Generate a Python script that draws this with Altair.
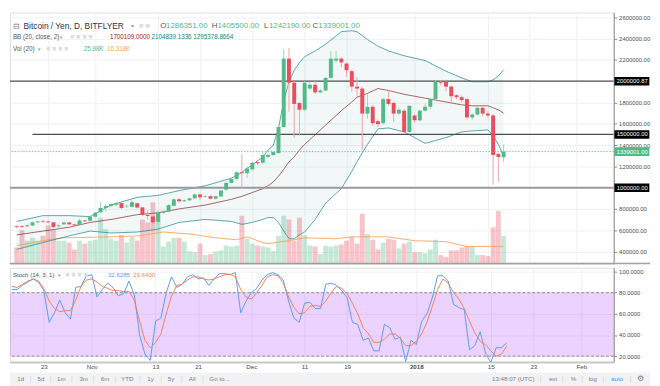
import json
import altair as alt
import pandas as pd

# ---------------- data ----------------
FIRST_DAY = "2017-10-17"

opens = [638000, 640000, 638000, 645000, 675000, 685000, 683000, 675000, 638000, 656000,
         674000, 656000, 650000, 692000, 690000, 728000, 770000, 810000, 828000, 840000,
         855000, 825000, 820000, 855000, 815000, 745000, 730000, 680000, 765000, 775000,
         830000, 891000, 873000, 882000, 900000, 937000, 915000, 920000, 897000, 918000,
         982000, 1045000, 1081000, 1145000, 1136000, 1172000, 1240000, 1235000, 1290000, 1307000,
         1325000, 1570000, 2212000, 1986000, 1796000, 1732000, 1931000, 1967000, 1895000, 1913000,
         2031000, 2193000, 2212000, 2166000, 2094000, 1949000, 1931000, 1696000, 1760000, 1624000,
         1606000, 1832000, 1796000, 1696000, 1723000, 1524000, 1678000, 1633000, 1723000, 1760000,
         1832000, 1995000, 1995000, 1949000, 1868000, 1850000, 1832000, 1660000, 1687000, 1750000,
         1696000, 1678000, 1316000, 1286351]
highs = [648000, 650000, 655000, 682000, 690000, 700000, 690000, 680000, 655000, 680000,
         680000, 662000, 710000, 700000, 735000, 772000, 865000, 850000, 855000, 865000,
         862000, 845000, 885000, 860000, 820000, 790000, 740000, 785000, 790000, 845000,
         900000, 905000, 890000, 908000, 945000, 945000, 930000, 930000, 925000, 980000,
         1055000, 1095000, 1155000, 1316000, 1200000, 1245000, 1250000, 1340000, 1320000, 1345000,
         1580000, 2302000, 2311000, 2000000, 1800000, 2000000, 1990000, 2000000, 1925000, 2040000,
         2284000, 2284000, 2230000, 2175000, 2110000, 2040000, 1945000, 1877000, 1775000, 1640000,
         1840000, 1922000, 1810000, 1750000, 1740000, 1775000, 1690000, 1735000, 1790000, 1845000,
         2005000, 2010000, 2005000, 1960000, 1880000, 1865000, 1845000, 1700000, 1765000, 1765000,
         1720000, 1690000, 1330000, 1405500]
lows = [625000, 620000, 632000, 640000, 668000, 670000, 665000, 620000, 625000, 650000,
        650000, 640000, 645000, 678000, 685000, 720000, 760000, 780000, 815000, 830000,
        800000, 810000, 815000, 805000, 735000, 700000, 655000, 670000, 755000, 770000,
        825000, 860000, 865000, 875000, 895000, 885000, 905000, 890000, 890000, 912000,
        975000, 1040000, 1075000, 990000, 1090000, 1160000, 1215000, 1220000, 1280000, 1300000,
        1320000, 1560000, 1714000, 1470000, 1488000, 1720000, 1920000, 1880000, 1885000, 1905000,
        2025000, 2170000, 2130000, 2040000, 1900000, 1859000, 1353000, 1650000, 1580000, 1570000,
        1595000, 1770000, 1620000, 1680000, 1510000, 1515000, 1610000, 1620000, 1715000, 1740000,
        1820000, 1960000, 1904000, 1805000, 1830000, 1800000, 1640000, 1640000, 1680000, 1670000,
        1660000, 1027000, 1054000, 1242190]
closes = [630000, 633000, 647000, 675000, 683000, 680000, 675000, 630000, 647000, 674000,
          656000, 647000, 692000, 684000, 728000, 765000, 810000, 828000, 846000, 855000,
          810000, 830000, 864000, 815000, 745000, 735000, 675000, 765000, 775000, 837000,
          891000, 873000, 882000, 900000, 937000, 910000, 920000, 897000, 920000, 973000,
          1045000, 1081000, 1145000, 1136000, 1181000, 1235000, 1230000, 1307000, 1307000, 1335000,
          1570000, 2212000, 1986000, 1787000, 1732000, 1986000, 1967000, 1895000, 1913000, 2031000,
          2212000, 2212000, 2176000, 2103000, 1949000, 1931000, 1696000, 1760000, 1606000, 1597000,
          1832000, 1787000, 1696000, 1732000, 1524000, 1769000, 1633000, 1723000, 1760000, 1832000,
          1995000, 1986000, 1949000, 1859000, 1850000, 1823000, 1660000, 1687000, 1750000, 1696000,
          1678000, 1307000, 1289000, 1339001]
volumes = [15200, 31400, 21500, 24200, 21500, 26000, 35800, 31400, 21500, 21500,
           19700, 13400, 21500, 18800, 21500, 22400, 43000, 32300, 23300, 21500,
           26900, 19700, 25100, 21500, 41200, 38500, 57300, 47500, 16100, 20600,
           24200, 24200, 20600, 11600, 10800, 18800, 8100, 9000, 11600, 12500,
           17000, 16100, 17000, 44800, 23300, 18800, 17000, 16100, 15200, 11600,
           26000, 44800, 41200, 21500, 43000, 26900, 17000, 16100, 9000, 17000,
           16100, 17000, 17900, 21500, 25100, 18800, 46600, 27800, 22400, 13400,
           19700, 23300, 22400, 14300, 18800, 20600, 10800, 10800, 9900, 13400,
           22400, 8100, 6300, 12500, 12500, 15200, 16100, 16100, 8100, 8100,
           7200, 34000, 49300, 25980]
stoch_k = [83, 83, 87, 90, 93, 90, 82, 52, 61, 73, 61, 55, 85, 86, 96, 97, 76, 83, 89, 85,
           77, 79, 91, 78, 40, 22, 16, 53, 56, 80, 95, 85, 88, 95, 97, 93, 94, 87, 93, 98,
           98, 97, 99, 61, 72, 80, 84, 92, 97, 99, 97, 92, 72, 56, 52, 70, 71, 65, 65, 88,
           89, 87, 82, 75, 52, 50, 35, 37, 25, 25, 50, 47, 36, 38, 15, 35, 31, 53, 60, 75,
           96, 96, 91, 69, 66, 64, 26, 30, 43, 23, 14, 28, 28, 32.6285]
stoch_d = [86, 85, 88, 91, 93, 91, 84, 72, 65, 62, 63, 63, 73, 86, 92, 93, 90, 86, 84, 82,
           82, 81, 81, 73, 53, 35, 28, 33, 41, 60, 77, 87, 88, 92, 95, 95, 93, 92, 93, 95,
           97, 97.5, 95, 83, 76, 74, 80, 87, 95, 97, 96, 89, 76, 66, 60, 61, 67, 68, 67, 72,
           80, 86, 84, 79, 70, 60, 47, 41, 33, 33, 36, 41, 41, 37, 30, 30, 34, 41, 52, 67,
           83, 93, 89, 80, 74, 65, 53, 42, 34, 31, 25, 20, 22, 29.64]

bb_dates = ["2017-10-17", "2017-10-22", "2017-10-27", "2017-10-31", "2017-11-04", "2017-11-09",
            "2017-11-13", "2017-11-17", "2017-11-22", "2017-11-27", "2017-11-29", "2017-12-01",
            "2017-12-03", "2017-12-04", "2017-12-05", "2017-12-06", "2017-12-07", "2017-12-08",
            "2017-12-09", "2017-12-10", "2017-12-11", "2017-12-13", "2017-12-15", "2017-12-18",
            "2017-12-20", "2017-12-21", "2017-12-23", "2017-12-25", "2017-12-27", "2017-12-30",
            "2018-01-03", "2018-01-07", "2018-01-10", "2018-01-12", "2018-01-15", "2018-01-16",
            "2018-01-17", "2018-01-18"]
bb_upper = [684000, 738000, 738000, 729000, 837000, 910000, 928000, 973000, 1018000, 1090000,
            1145000, 1217000, 1289000, 1353000, 1398000, 1561000, 1814000, 1995000, 2103000, 2175000,
            2230000, 2284000, 2347000, 2465000, 2474000, 2465000, 2392000, 2329000, 2284000, 2239000,
            2194000, 2094000, 2031000, 1995000, 1995000, 2013000, 2049000, 2104839.1336]
bb_basis = [557000, 593000, 629000, 674000, 702000, 747000, 765000, 801000, 837000, 891000,
            919000, 955000, 991000, 1018000, 1054000, 1109000, 1172000, 1244000, 1289000, 1353000,
            1407000, 1497000, 1588000, 1723000, 1805000, 1850000, 1886000, 1931000, 1913000, 1877000,
            1841000, 1805000, 1778000, 1769000, 1769000, 1750000, 1732000, 1700109.0]
bb_lower = [421000, 485000, 548000, 593000, 575000, 584000, 611000, 674000, 702000, 684000,
            656000, 674000, 702000, 720000, 720000, 674000, 593000, 521000, 521000, 557000,
            584000, 702000, 855000, 991000, 1154000, 1244000, 1407000, 1552000, 1561000, 1524000,
            1416000, 1470000, 1524000, 1533000, 1543000, 1488000, 1407000, 1295378.8664]

volma_dates = ["2017-10-17", "2017-10-23", "2017-10-26", "2017-11-04", "2017-11-09", "2017-11-14",
               "2017-11-19", "2017-11-24", "2017-11-28", "2017-11-30", "2017-12-03", "2017-12-04",
               "2017-12-08", "2017-12-11", "2017-12-17", "2017-12-20", "2017-12-27", "2018-01-01",
               "2018-01-07", "2018-01-11", "2018-01-15", "2018-01-18"]
volma_values = [17000, 22400, 24200, 25100, 26000, 29600, 27800, 24200, 22400, 25100, 19700,
                18800, 21500, 24200, 23300, 25100, 25100, 21500, 20600, 16100, 16100, 16318]

level_prices = [2000000.87, 1500000.00, 1000000.00]
level_starts = ["2017-10-15", "2017-10-20", "2017-10-15"]
last_close = 1339001.00

tick_dates = ["2017-10-23", "2017-11-01", "2017-11-13", "2017-11-21", "2017-12-01", "2017-12-11",
              "2017-12-19", "2018-01-01", "2018-01-15", "2018-01-23", "2018-02-01"]
tick_labels = ["23", "Nov", "13", "21", "Dec", "11", "19", "2018", "15", "23", "Feb"]
price_ticks = [400000, 600000, 800000, 1200000, 1400000, 1600000, 1800000, 2200000, 2400000, 2600000]
stoch_ticks = [20, 40, 60, 80, 100]
stoch_band = [20, 80]

title_text = "Bitcoin / Yen, D, BITFLYER"
ohlc_letters = ["O", "H", "L", "C"]
bb_text = "BB (20, close, 2)"
vol_text = "Vol (20)"
vol_values = ["25.98K", "16.318K"]
stoch_text = "Stoch (14, 3, 1)"
stoch_values = ["32.6285", "29.6400"]
toolbar_left = ["1d", "5d", "1m", "3m", "6m", "YTD", "1y", "5y", "All", "Go to..."]
toolbar_right = ["13:48:07 (UTC)", "ext", "%", "log", "auto", "\u2699"]

# ---------------- layout / style ----------------
SX = 652 / 660
SY = 378 / 386
W = round(623 * SX)
H1 = round(261 * SY)
H2 = round(98 * SY)

def px(x):
    return round(x * SX, 1)

def py(y):
    return round(y * SY, 1)

def py2(y):
    return round((y - 263) * SY, 1)

FONT = "Liberation Sans"
GREEN = "#53b987"
RED = "#eb4d5c"
TEAL = "#138484"
MAROON = "#872323"
VOLMA = "#f7a35c"
K_COL = "#5b9cf6"
D_COL = "#f4805a"
GRID = "#eef1f5"
AXC = "#8c8c8c"
LAB = "#4a4a4a"

base = pd.Timestamp(FIRST_DAY)

def offs(dates):
    return [(pd.Timestamp(t) - base).days for t in dates]

candle_dates = pd.date_range(FIRST_DAY, periods=len(closes), freq="D")
candles = pd.DataFrame({"d": offs(candle_dates), "open": opens, "high": highs,
                        "low": lows, "close": closes, "vol": volumes})
stoch = pd.DataFrame({"d": offs(candle_dates), "k": stoch_k, "dd": stoch_d})
bb = pd.DataFrame({"d": offs(bb_dates), "upper": bb_upper, "basis": bb_basis, "lower": bb_lower})
vm = pd.DataFrame({"d": offs(volma_dates), "v": volma_values})
tick_days = offs(tick_dates)
ONE = pd.DataFrame({"k": [0]})

X_DOM = [-0.364, 113.1]
XS = alt.Scale(domain=X_DOM, nice=False, zero=False)
PS = alt.Scale(domain=[285700, 2645200], nice=False, zero=False)
VS = alt.Scale(domain=[0, 234000], nice=False)
SS = alt.Scale(domain=[14.5, 103.6], nice=False, zero=False)

XAX_P = alt.Axis(values=tick_days, grid=True, gridColor=GRID, labels=False, ticks=False,
                 domain=False, title=None)
X_P = alt.X("d:Q", scale=XS, axis=XAX_P)
PAX = alt.Axis(orient="right", values=price_ticks, format=".2f", labelFontSize=6,
               labelColor=LAB, labelFont=FONT, tickSize=3, tickColor=AXC, domainColor=AXC,
               labelPadding=2, grid=True, gridColor=GRID, title=None)

def py_enc(field):
    return alt.Y(field, scale=PS, axis=PAX)

up_cond = "datum.close >= datum.open"

def txt(s, x, y, color, size, align="left", weight="normal"):
    return alt.Chart(ONE).mark_text(text=s, align=align, baseline="middle", color=color,
                                    fontSize=size, font=FONT, fontWeight=weight).encode(
        x=alt.value(x), y=alt.value(y))

# ---------- volume layer ----------
vol_bars = alt.Chart(candles).mark_bar(size=5, opacity=0.33).encode(
    x=X_P, y=alt.Y("vol:Q", scale=VS, axis=None),
    color=alt.condition(up_cond, alt.value(GREEN), alt.value(RED)))
vol_ma = alt.Chart(vm).mark_line(color=VOLMA, strokeWidth=1, opacity=0.9).encode(
    x=X_P, y=alt.Y("v:Q", scale=VS, axis=None))
vol_layer = alt.layer(vol_bars, vol_ma)

# ---------- price layer ----------
fill = alt.Chart(bb).mark_area(color="#198787", opacity=0.055).encode(
    x=X_P, y=py_enc("upper:Q"), y2="lower:Q")
up_line = alt.Chart(bb).mark_line(color=TEAL, strokeWidth=1, opacity=0.7).encode(
    x=X_P, y=py_enc("upper:Q"))
lo_line = alt.Chart(bb).mark_line(color=TEAL, strokeWidth=1, opacity=0.7).encode(
    x=X_P, y=py_enc("lower:Q"))
mid_line = alt.Chart(bb).mark_line(color=MAROON, strokeWidth=1, opacity=0.7).encode(
    x=X_P, y=py_enc("basis:Q"))

level_styles = [("#4d4d4d", 1.3), ("#4d4d4d", 1.3), ("#9a9a9a", 2.2)]
level_layers = []
for p, s, (c, w) in zip(level_prices, level_starts, level_styles):
    df = pd.DataFrame({"p": [p], "d": offs([s])})
    level_layers.append(
        alt.Chart(df).mark_rule(color=c, strokeWidth=w, clip=True).encode(
            x=X_P, x2=alt.value(W), y=py_enc("p:Q")))

last_df = pd.DataFrame({"p": [last_close]})
last_line = alt.Chart(last_df).mark_rule(color=GREEN, strokeWidth=1, strokeDash=[1.5, 1.5],
                                        opacity=0.8).encode(y=py_enc("p:Q"))

wicks = alt.Chart(candles).mark_rule(strokeWidth=1).encode(
    x=X_P, y=py_enc("low:Q"), y2="high:Q",
    color=alt.condition(up_cond, alt.value("#9fd6ba"), alt.value("#f3a3ab")))
bodies = alt.Chart(candles).mark_bar(size=4).encode(
    x=X_P, y=py_enc("open:Q"), y2="close:Q",
    color=alt.condition(up_cond, alt.value(GREEN), alt.value(RED)))

box_df = pd.DataFrame({"p": level_prices + [last_close]})
box_cond = f"datum.p == {last_close}"
boxes = alt.Chart(box_df).mark_tick(orient="horizontal", size=round(36 * SX, 1),
                                   thickness=round(9 * SY, 1), opacity=1).encode(
    x=alt.value(W + 18.5), y=py_enc("p:Q"),
    color=alt.condition(box_cond, alt.value(GREEN), alt.value("#000000")))
box_txt = alt.Chart(box_df).mark_text(align="left", baseline="middle", color="white",
                                     fontSize=6, font=FONT).encode(
    x=alt.value(W + 3), y=py_enc("p:Q"), text=alt.Text("p:Q", format=".2f"))

sep = alt.Chart(ONE).mark_rule(color="#9e9e9e", strokeWidth=1.5).encode(
    x=alt.value(0), x2=alt.value(652), y=alt.value(H1 - 0.2))

SQ = "\u25a0 \u25a0 \u25a0 \u25a0"
hdr = [
    txt("\u229f", px(3), py(14), "#777777", 8.5),
    txt(title_text, px(14), py(14), "#2f3241", 8.5),
    txt("\u25be", px(125), py(14), "#9a9a9a", 6),
    txt("\u25a0 \u25a0", px(133), py(14), "#dedede", 7.5),
    txt(bb_text, px(3), py(25), "#555555", 6.4),
    txt("\u25be", px(52), py(25), "#9a9a9a", 5.5),
    txt(SQ, px(62), py(25), "#dedede", 7),
    txt(f"{bb_basis[-1]:.4f}", px(103), py(25), MAROON, 6.4),
    txt(f"{bb_upper[-1]:.4f}", px(146), py(25), TEAL, 6.4),
    txt(f"{bb_lower[-1]:.4f}", px(189), py(25), TEAL, 6.4),
    txt(vol_text, px(3), py(38), "#555555", 6.4),
    txt("\u25be", px(29), py(38), "#9a9a9a", 5.5),
    txt(SQ, px(37), py(38), "#dedede", 7),
    txt(vol_values[0], px(76), py(38), GREEN, 6.4),
    txt(vol_values[1], px(100), py(38), VOLMA, 6.4),
]
ohlc_vals = [opens[-1], highs[-1], lows[-1], closes[-1]]
for letter, val, xl, xv in zip(ohlc_letters, ohlc_vals, [155, 208, 262, 312], [161, 214, 267, 318]):
    hdr.append(txt(letter, px(xl), py(14), "#555555", 8))
    hdr.append(txt(f"{val:.2f}", px(xv), py(14), GREEN, 8))

price_layer = alt.layer(fill, up_line, lo_line, mid_line, *level_layers, last_line,
                        wicks, bodies, boxes, box_txt, sep, *hdr)

price = alt.layer(vol_layer, price_layer).resolve_scale(y="independent").properties(
    width=W, height=H1)

# ---------- stochastic panel ----------
label_expr = f"{json.dumps(tick_labels)}[indexof({json.dumps(tick_days)}, datum.value)]"
bold_day = offs(["2018-01-01"])[0]
XAX_S = alt.Axis(values=tick_days, labelExpr=label_expr, grid=True, gridColor=GRID,
                 ticks=False, tickSize=0, domain=True, domainColor="#c8c8c8", domainWidth=2,
                 labelFontSize=6.3, labelColor=LAB, labelFont=FONT, labelPadding=2,
                 labelFlush=False, title=None,
                 labelFontWeight={"condition": {"test": f"datum.value == {bold_day}",
                                                "value": "bold"}, "value": "normal"})
X_S = alt.X("d:Q", scale=XS, axis=XAX_S)
SAX = alt.Axis(orient="right", values=stoch_ticks, format=".4f", labelFontSize=6,
               labelColor=LAB, labelFont=FONT, tickSize=3, tickColor=AXC, domainColor=AXC,
               labelPadding=2, grid=True, gridColor=GRID, title=None)

band_df = pd.DataFrame({"lo": [stoch_band[0]], "hi": [stoch_band[1]]})
band = alt.Chart(band_df).mark_rect(color="#9915ff", opacity=0.19).encode(
    x=alt.value(0), x2=alt.value(W), y=alt.Y("hi:Q", scale=SS, axis=SAX), y2="lo:Q")
dash_df = pd.DataFrame({"v": stoch_band})
dashes = alt.Chart(dash_df).mark_rule(color="#8c8c8c", strokeDash=[3, 2], strokeWidth=1).encode(
    y=alt.Y("v:Q", scale=SS, axis=SAX))
k_line = alt.Chart(stoch).mark_line(color=K_COL, strokeWidth=1, clip=True).encode(
    x=X_S, y=alt.Y("k:Q", scale=SS, axis=SAX))
d_line = alt.Chart(stoch).mark_line(color=D_COL, strokeWidth=1, clip=True).encode(
    x=X_S, y=alt.Y("dd:Q", scale=SS, axis=SAX))

s_hdr = [
    txt(stoch_text, px(3), py2(271), "#555555", 6.2),
    txt("\u25be", px(50), py2(271), "#9a9a9a", 5.5),
    txt(SQ, px(57), py2(271), "#dedede", 7),
    txt(stoch_values[0], px(101), py2(271), K_COL, 6.2),
    txt(stoch_values[1], px(127), py2(271), D_COL, 6.2),
]

tb_bg = alt.Chart(ONE).mark_rect(color="#f1f2f4").encode(
    x=alt.value(0), x2=alt.value(652), y=alt.value(py2(372)), y2=alt.value(py2(386.5)))
tb = [tb_bg]
TBY = py2(379)
for s, x in zip(toolbar_left, [11, 32, 53, 76, 98, 121, 145, 166, 188, 216]):
    tb.append(txt(s, px(x), TBY, "#7b7e87", 6.3, align="center"))
for s, x, c in zip(toolbar_right, [519, 560, 581, 601, 626, 650],
                   ["#7b7e87", "#7b7e87", "#7b7e87", "#7b7e87", "#2b9cf2", "#7b7e87"]):
    tb.append(txt(s, px(x), TBY, c, 6.3 if s != "\u2699" else 8, align="center"))
for x in [21, 42, 64, 86, 109, 134, 156, 177, 199, 547, 570, 590, 612, 640]:
    tb.append(txt("|", px(x), TBY, "#d3d5d9", 7, align="center"))

stoch_panel = alt.layer(band, dashes, k_line, d_line, *s_hdr, *tb).properties(
    width=W, height=H2)

chart = alt.vconcat(price, stoch_panel, spacing=1).properties(
    padding=0, background="white").configure_view(strokeWidth=0).configure(font=FONT)

chart.save("out.html", embed_options={"renderer": "svg", "actions": False})
